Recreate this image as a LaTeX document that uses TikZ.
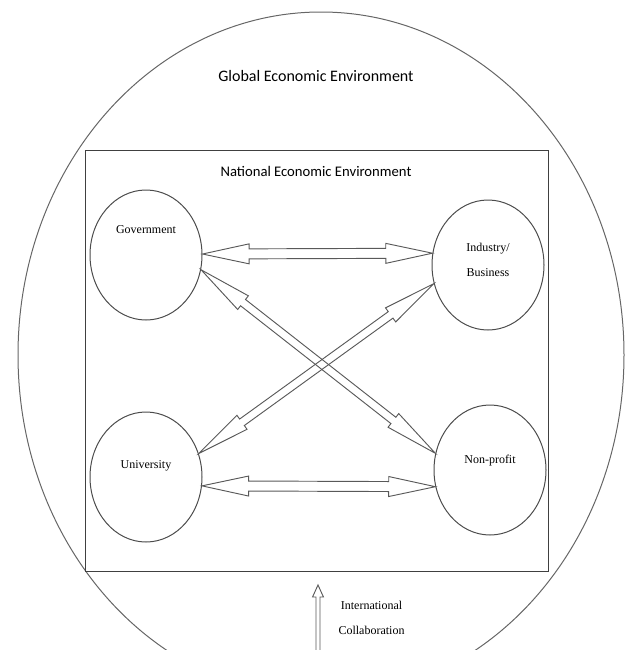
\documentclass[tikz,border=0pt]{standalone}
\usepackage{fontspec}
\setmainfont{Liberation Serif}
\newfontfamily\calibrifont{Carlito}
\usetikzlibrary{shapes.geometric,calc}

\newcommand{\hollowarrow}[5]{%
	\draw[myarrow] (#1)
	-- ($(#1)!#3!(#2)!#4!90:(#2)$) -- ($(#1)!#3!(#2)!#5!90:(#2)$)
	-- ($(#2)!#3!(#1)!#5!-90:(#1)$) -- ($(#2)!#3!(#1)!#4!-90:(#1)$)
	-- (#2)
	-- ($(#2)!#3!(#1)!#4!90:(#1)$) -- ($(#2)!#3!(#1)!#5!90:(#1)$)
	-- ($(#1)!#3!(#2)!#5!-90:(#2)$) -- ($(#1)!#3!(#2)!#4!-90:(#2)$)
	-- cycle;
}
\newcommand{\hollowtip}[5]{%
	\draw[myarrow] ($(#1)!#5!90:(#2)$)
	-- ($(#2)!#3!(#1)!#5!-90:(#1)$) -- ($(#2)!#3!(#1)!#4!-90:(#1)$)
	-- (#2)
	-- ($(#2)!#3!(#1)!#4!90:(#1)$) -- ($(#2)!#3!(#1)!#5!90:(#1)$)
	-- ($(#1)!#5!-90:(#2)$);
}

\begin{document}
\begin{tikzpicture}
		[x=0.75pt,y=-0.75pt,
		mynode/.style={ellipse,draw=black!70,line width=0.75pt,minimum width=84pt,minimum height=97.5pt,inner sep=0pt},
		every label/.style={font=\fontsize{9}{18.75}\selectfont,align=center},
		myarrow/.style={draw=black!65,line width=0.7pt,line join=miter}]
		\useasboundingbox (0,0) rectangle (630,650);
		\clip (0,0) rectangle (630,650);
		\node[ellipse,draw=black!60,line width=0.75pt,minimum width=454.5pt,minimum height=514.5pt,inner sep=0pt,name=global] at (321,355) {};
		\node[draw=black!75,line width=0.75pt,minimum width=347.25pt,minimum height=315.75pt,inner sep=0pt,name=national] at (316.5,360.5) {};
		\node[name=globaltext,font=\calibrifont\fontsize{12}{14}\selectfont] at (316,76) {Global Economic Environment};
		\node[name=nationaltext,font=\calibrifont\fontsize{11}{13}\selectfont] at (316,171) {National Economic Environment};
		\node[mynode,name=gov,label={[name=govtext,yshift=18.75pt]center:Government}] at (146,255) {};
		\node[mynode,name=ind,label={[name=indtext,yshift=3.75pt]center:{Industry/\\Business}}] at (488,265) {};
		\node[mynode,name=uni,label={[name=unitext,yshift=8.25pt]center:University}] at (146,477) {};
		\node[mynode,name=np,label={[name=nptext,yshift=6.75pt]center:Non-profit}] at (490,470) {};
		\hollowarrow{gov.1}{ind.168}{35pt}{7.5pt}{3.75pt}
		\hollowarrow{uni.-9}{np.-163}{35pt}{7.5pt}{3.75pt}
		\hollowarrow{gov.-15}{np.163}{40pt}{6.5pt}{3pt}
		\hollowarrow{ind.-161}{uni.24}{40pt}{6.5pt}{3pt}
		\coordinate (intlbase) at (318,655);
		\coordinate (intltip) at (318,585);
		\hollowtip{intlbase}{intltip}{9pt}{4.1pt}{1.5pt}
		\node[name=intltext,font=\fontsize{9}{18.75}\selectfont,align=center] at (371.5,617.5) {International\\Collaboration};
	\end{tikzpicture}
\end{document}
